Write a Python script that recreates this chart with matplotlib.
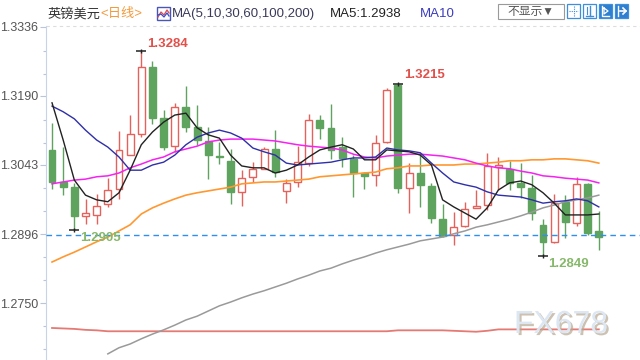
import matplotlib
matplotlib.use('Agg')
import matplotlib.pyplot as plt
import matplotlib.patheffects as pe
from matplotlib.patches import Rectangle
import numpy as np

# GBP/USD daily candles
opens = [1.3075, 1.3007, 1.2996, 1.2935, 1.2937, 1.2960, 1.2992, 1.3064, 1.3109, 1.3251,
         1.3143, 1.3083, 1.3166, 1.3124, 1.3094, 1.3062, 1.3051, 1.2986, 1.3018, 1.3035,
         1.3077, 1.2988, 1.3007, 1.3047, 1.3139, 1.3122, 1.3081, 1.3056, 1.3026, 1.3022,
         1.3092, 1.3213, 1.2994, 1.3026, 1.2998, 1.2928, 1.2894, 1.2914, 1.2952, 1.2958,
         1.3039, 1.3035, 1.3005, 1.2994, 1.2916, 1.2880, 1.2965, 1.2920, 1.3003, 1.2903]
highs = [1.3132, 1.3081, 1.3005, 1.2971, 1.2981, 1.3015, 1.3115, 1.3149, 1.3284, 1.3264,
         1.3160, 1.3175, 1.3211, 1.3170, 1.3124, 1.3092, 1.3077, 1.3032, 1.3049, 1.3081,
         1.3117, 1.3013, 1.3083, 1.3151, 1.3149, 1.3173, 1.3103, 1.3064, 1.3028, 1.3107,
         1.3207, 1.3215, 1.3047, 1.3069, 1.3005, 1.2960, 1.2943, 1.2965, 1.2990, 1.3069,
         1.3060, 1.3052, 1.3047, 1.3022, 1.2928, 1.2981, 1.2979, 1.3018, 1.3005, 1.2945]
lows = [1.2992, 1.2979, 1.2905, 1.2918, 1.2918, 1.2954, 1.2971, 1.3064, 1.3102, 1.3130,
        1.3075, 1.3071, 1.3113, 1.3086, 1.3013, 1.3045, 1.2960, 1.2956, 1.3007, 1.3035,
        1.3018, 1.2962, 1.2996, 1.3041, 1.3098, 1.3056, 1.3039, 1.2975, 1.2992, 1.2998,
        1.3090, 1.2984, 1.2941, 1.2954, 1.2920, 1.2890, 1.2873, 1.2911, 1.2952, 1.2948,
        1.2990, 1.2990, 1.2973, 1.2926, 1.2849, 1.2877, 1.2888, 1.2914, 1.2894, 1.2863]
closes = [1.3007, 1.2996, 1.2935, 1.2941, 1.2956, 1.2990, 1.3075, 1.3109, 1.3251, 1.3143,
          1.3081, 1.3166, 1.3124, 1.3096, 1.3064, 1.3060, 1.2986, 1.3015, 1.3035, 1.3077,
          1.3028, 1.3005, 1.3049, 1.3139, 1.3122, 1.3075, 1.3058, 1.3026, 1.3020, 1.3090,
          1.3202, 1.2994, 1.3026, 1.3001, 1.2931, 1.2892, 1.2911, 1.2950, 1.2956, 1.3041,
          1.3043, 1.3005, 1.2996, 1.2941, 1.2880, 1.2962, 1.2922, 1.3003, 1.2899, 1.2890]

# moving averages as drawn on the chart
ma5 = [1.3175, 1.3096, 1.3011, 1.2979, 1.2969, 1.2965, 1.2984, 1.3032, 1.3086, 1.3113,
       1.3134, 1.3149, 1.3153, 1.3122, 1.3107, 1.3100, 1.3064, 1.3041, 1.3037, 1.3037,
       1.3026, 1.3032, 1.3043, 1.3060, 1.3075, 1.3081, 1.3086, 1.3077, 1.3054, 1.3054,
       1.3075, 1.3073, 1.3071, 1.3064, 1.3043, 1.2969, 1.2954, 1.2941, 1.2928, 1.2952,
       1.2990, 1.3005, 1.3009, 1.3001, 1.2984, 1.2962, 1.2937, 1.2937, 1.2937, 1.2939]
ma10 = [1.3168, 1.3156, 1.3141, 1.3117, 1.3096, 1.3081, 1.3060, 1.3032, 1.3032, 1.3043,
        1.3049, 1.3064, 1.3086, 1.3102, 1.3111, 1.3117, 1.3111, 1.3100, 1.3079, 1.3071,
        1.3064, 1.3047, 1.3043, 1.3045, 1.3047, 1.3049, 1.3054, 1.3058, 1.3058, 1.3060,
        1.3079, 1.3075, 1.3073, 1.3069, 1.3047, 1.3026, 1.3007, 1.3001, 1.2996, 1.2986,
        1.2979, 1.2977, 1.2975, 1.2969, 1.2962, 1.2965, 1.2967, 1.2971, 1.2967, 1.2954]
ma30 = [1.3003, 1.3007, 1.3011, 1.3013, 1.3018, 1.3020, 1.3026, 1.3037, 1.3045, 1.3054,
        1.3060, 1.3071, 1.3077, 1.3083, 1.3092, 1.3096, 1.3098, 1.3098, 1.3098, 1.3096,
        1.3094, 1.3090, 1.3086, 1.3083, 1.3081, 1.3079, 1.3075, 1.3066, 1.3060, 1.3058,
        1.3062, 1.3064, 1.3066, 1.3066, 1.3064, 1.3062, 1.3058, 1.3054, 1.3047, 1.3041,
        1.3037, 1.3035, 1.3030, 1.3026, 1.3020, 1.3018, 1.3015, 1.3013, 1.3011, 1.3005]
ma60 = [1.2837, 1.2848, 1.2858, 1.2869, 1.2880, 1.2890, 1.2903, 1.2916, 1.2939, 1.2952,
        1.2962, 1.2971, 1.2979, 1.2984, 1.2988, 1.2992, 1.2996, 1.3003, 1.3005, 1.3007,
        1.3007, 1.3009, 1.3011, 1.3013, 1.3018, 1.3020, 1.3022, 1.3024, 1.3026, 1.3028,
        1.3035, 1.3037, 1.3041, 1.3041, 1.3043, 1.3043, 1.3043, 1.3045, 1.3045, 1.3047,
        1.3049, 1.3052, 1.3052, 1.3054, 1.3054, 1.3056, 1.3056, 1.3054, 1.3052, 1.3047]
ma100 = [np.nan, np.nan, np.nan, np.nan, np.nan,
         1.2642, 1.2655, 1.2663, 1.2674, 1.2684, 1.2693, 1.2703, 1.2714, 1.2722, 1.2733,
         1.2744, 1.2752, 1.2761, 1.2769, 1.2776, 1.2784, 1.2792, 1.2801, 1.2809, 1.2818,
         1.2824, 1.2833, 1.2841, 1.2848, 1.2856, 1.2863, 1.2869, 1.2875, 1.2882, 1.2886,
         1.2890, 1.2897, 1.2903, 1.2911, 1.2916, 1.2922, 1.2928, 1.2935, 1.2943, 1.2952,
         1.2958, 1.2965, 1.2969, 1.2973, 1.2979]
ma200 = [1.2697, 1.2696, 1.2695, 1.2693, 1.2692, 1.2690, 1.2690, 1.2690, 1.2690, 1.2690,
         1.2690, 1.2690, 1.2690, 1.2690, 1.2690, 1.2690, 1.2690, 1.2690, 1.2690, 1.2690,
         1.2690, 1.2690, 1.2690, 1.2690, 1.2690, 1.2690, 1.2690, 1.2690, 1.2690, 1.2690,
         1.2690, 1.2692, 1.2692, 1.2692, 1.2692, 1.2692, 1.2691, 1.2690, 1.2689, 1.2691,
         1.2694, 1.2694, 1.2694, 1.2694, 1.2694, 1.2694, 1.2694, 1.2694, 1.2694, 1.2694]

y_ticks = [1.2750, 1.2896, 1.3043, 1.3190, 1.3336]
y_tick_labels = ['1.2750', '1.2896', '1.3043', '1.3190', '1.3336']
last_price = 1.2895
ma5_now = '1.2938'
y_min, y_max = 1.2629, 1.33381

plt.rcParams['font.family'] = ['Liberation Sans', 'Noto Sans CJK SC', 'DejaVu Sans']

GREEN = '#5ea35e'
RED = '#e4625b'

fig = plt.figure(figsize=(6.4, 3.6), dpi=100)
ax = fig.add_axes([46 / 640, 0, 594 / 640, 334 / 360])

idx = np.arange(len(opens))
w = 0.62
for i in idx:
    o, h, l, c = opens[i], highs[i], lows[i], closes[i]
    up = c >= o
    col = RED if up else GREEN
    ax.vlines(i, l, h, color=col, lw=1, zorder=2)
    ax.add_patch(Rectangle((i - w / 2, min(o, c)), w, max(abs(c - o), 0.00008),
                           facecolor='white' if up else GREEN, edgecolor=col,
                           lw=1, zorder=3))

ax.plot(idx, ma200, color='#e57a74', lw=1.3, zorder=4)
ax.plot(idx, ma100, color='#9a9a9a', lw=1.1, zorder=4)
ax.plot(idx, ma60, color='#ff9830', lw=1.2, zorder=4)
ax.plot(idx, ma30, color='#f522f0', lw=1.1, zorder=4)
ax.plot(idx, ma10, color='#2f2fa8', lw=1.0, zorder=4)
ax.plot(idx, ma5, color='#222222', lw=1.0, zorder=5)

ax.axhline(last_price, color='#2f8ff0', lw=1, ls=(0, (4, 3)), zorder=6)


def mark(i, val, text, color, dx, dy):
    ax.plot(i, val, marker='_', ms=7, mew=1.1, color='#222222', zorder=7)
    ax.plot(i, val, marker='|', ms=3.5, mew=1.0, color='#222222', zorder=7)
    ax.annotate(text, (i, val), xytext=(dx, dy), textcoords='offset pixels',
                ha='left', va='center', fontsize=9.5, fontweight='bold',
                color=color, zorder=8)


i_hi1 = int(np.argmax(highs[:20]))
i_hi2 = 20 + int(np.argmax(highs[20:40]))
i_lo1 = int(np.argmin(lows[:20]))
i_lo2 = 20 + int(np.argmin(lows[20:]))
mark(i_hi1, highs[i_hi1], '%.4f' % highs[i_hi1], '#e2504a', 6, 7)
mark(i_hi2, highs[i_hi2], '%.4f' % highs[i_hi2], '#e2504a', 6, 9)
mark(i_lo1, lows[i_lo1], '%.4f' % lows[i_lo1], '#86b86a', 6, -8)
mark(i_lo2, lows[i_lo2], '%.4f' % lows[i_lo2], '#86b86a', 5, -8)

ax.set_xticks([])
ax.set_yticks(y_ticks)
ax.set_yticklabels(y_tick_labels, fontsize=9, color='#555555')
minor = []
step = y_ticks[1] - y_ticks[0]
for k in range(-2, len(y_ticks) * 3):
    v = y_ticks[0] + k * step / 3
    if k % 3 != 0 and y_min < v < y_max:
        minor.append(v)
ax.set_yticks(minor, minor=True)
ax.set_xlim(-0.54, 52.69)
ax.set_ylim(y_min, y_max)
ax.tick_params(axis='y', which='major', length=4, width=0.8, color='#b8c6dc', pad=1.5)
ax.tick_params(axis='y', which='minor', length=2.5, width=0.8, color='#b8c6dc')
for s in ['top', 'right', 'bottom']:
    ax.spines[s].set_visible(False)
ax.spines['left'].set_color('#c8d4e6')

# header / decorations in pixel coords
ov = fig.add_axes([0, 0, 1, 1], facecolor='none')
ov.set_xlim(0, 640)
ov.set_ylim(360, 0)
ov.axis('off')
ov.plot([46, 640], [26, 26], color='#dddddd', lw=0.8, ls=(0, (3, 3)))

ov.text(48, 14, '英镑美元', fontsize=9.5, color='#333333', va='center', ha='left')
ov.text(100, 14, '<日线>', fontsize=9.5, color='#f39a3c', va='center', ha='left')
ov.add_patch(Rectangle((157, 7), 13, 13, facecolor='white', edgecolor='#4a55b8', lw=1))
ov.plot([158, 161, 164, 167, 169], [17, 12, 15, 10, 13], color='#e04a4a', lw=0.9)
ov.plot([158, 161, 164, 167, 169], [15, 14, 17, 13, 16], color='#3050d0', lw=0.9)
ov.text(172, 14, 'MA(5,10,30,60,100,200)', fontsize=9.5, color='#3a3a5a', va='center', ha='left')
ov.text(330, 14, 'MA5:' + ma5_now, fontsize=9.5, color='#222222', va='center', ha='left')
ov.text(420, 14, 'MA10', fontsize=9.5, color='#3c3cbe', va='center', ha='left')

ov.add_patch(Rectangle((498, 4), 66, 15, facecolor='white', edgecolor='#9a9a9a', lw=0.8))
ov.text(531, 11.5, '不显示▼', fontsize=8.5, color='#555555', va='center', ha='center')
btn_x = [567, 583, 599, 615]
for k, bx in enumerate(btn_x):
    filled = k >= 2
    ov.add_patch(Rectangle((bx, 4), 13, 14, facecolor='#2f7fd0' if filled else 'white',
                           edgecolor='#3d8fdc', lw=0.9))
gc = '#3d8fdc'
ov.plot([573.5, 573.5], [6, 16], color=gc, lw=0.8, ls=(0, (1, 1)))
ov.plot([569, 578], [11, 11], color=gc, lw=0.8, ls=(0, (1, 1)))
ov.plot([589.5, 589.5], [6, 16], color=gc, lw=1)
ov.plot([586, 593], [15.5, 15.5], color=gc, lw=1)
ov.plot([587, 587], [7, 14], color=gc, lw=0.8)
ov.plot([602, 602, 609], [6, 16, 16], color='white', lw=1)
ov.plot([604, 604, 608, 604], [8, 14, 11, 8], color='white', lw=0.9)
ov.plot([618, 618], [6, 16], color='white', lw=1)
ov.plot([620, 626], [11, 11], color='white', lw=1.2)
ov.plot([623, 626, 623], [8, 11, 14], color='white', lw=1.2)

ov.text(561, 325, 'FX678', fontsize=23, color='#dce7f3', va='center', ha='center',
        path_effects=[pe.SimplePatchShadow(offset=(1.5, -1.5), shadow_rgbFace='#b8a890', alpha=0.7),
                      pe.Normal()])

fig.savefig('out.png', dpi=100)
